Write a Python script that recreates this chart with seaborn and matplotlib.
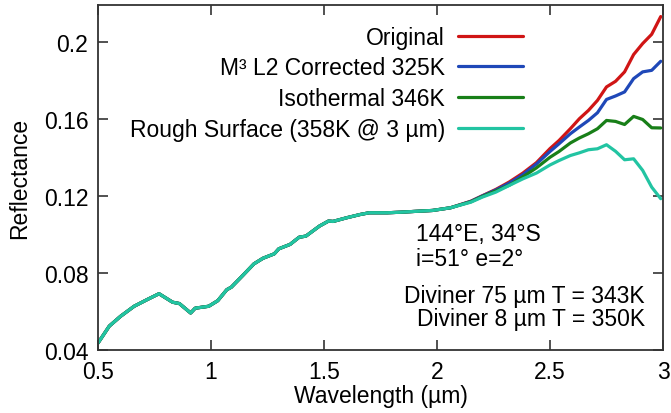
import numpy as np
import pandas as pd
import matplotlib
matplotlib.use("Agg")
import matplotlib.pyplot as plt
import seaborn as sns

# ---------------- data ----------------
wavelength = [0.50, 0.55, 0.60, 0.66, 0.72, 0.77, 0.83, 0.86, 0.91, 0.93,
              0.99, 1.03, 1.07, 1.09, 1.14, 1.19, 1.23, 1.28, 1.30, 1.35,
              1.39, 1.42, 1.48, 1.52, 1.54, 1.60, 1.66, 1.70, 1.78, 1.84,
              1.90, 1.98, 2.06, 2.15, 2.20, 2.26, 2.32, 2.38, 2.44, 2.50,
              2.54, 2.59, 2.63, 2.67, 2.71, 2.75, 2.79, 2.83, 2.87, 2.91,
              2.95, 2.99]

shared_part = [0.0436, 0.0524, 0.0575, 0.0627, 0.0663, 0.0692, 0.0648, 0.0641, 0.0592, 0.0617,
               0.0627, 0.0656, 0.0713, 0.0726, 0.0786, 0.0847, 0.0876, 0.0899, 0.0925, 0.0948,
               0.0985, 0.0991, 0.1043, 0.1069, 0.1067, 0.1086, 0.1103, 0.1112, 0.1112, 0.1115,
               0.1119, 0.1124, 0.1138]

original_tail = [0.1172, 0.1200, 0.1233, 0.1272, 0.1318, 0.1372, 0.1445,
                 0.1487, 0.1548, 0.1600, 0.1643, 0.1695, 0.1765, 0.1794, 0.1843, 0.1933, 0.1990,
                 0.2038, 0.2130]
m3_tail = [0.1171, 0.1199, 0.1230, 0.1266, 0.1310, 0.1365, 0.1430,
           0.1470, 0.1522, 0.1557, 0.1591, 0.1631, 0.1700, 0.1718, 0.1739, 0.1808, 0.1843,
           0.1851, 0.1898]
iso_tail = [0.1169, 0.1196, 0.1225, 0.1255, 0.1298, 0.1345, 0.1400,
            0.1430, 0.1474, 0.1500, 0.1522, 0.1548, 0.1591, 0.1586, 0.1570, 0.1612, 0.1596,
            0.1553, 0.1552]
rough_tail = [0.1167, 0.1193, 0.1219, 0.1254, 0.1288, 0.1318, 0.1360,
              0.1383, 0.1409, 0.1423, 0.1439, 0.1444, 0.1465, 0.1431, 0.1387, 0.1392, 0.1332,
              0.1245, 0.1185]

series_names = ["Original", "M\u00b3 L2 Corrected 325K", "Isothermal 346K",
                "Rough Surface (358K @ 3 \u00b5m)"]
series_values = [shared_part + original_tail, shared_part + m3_tail,
                 shared_part + iso_tail, shared_part + rough_tail]
colors = ["#d01515", "#1f48b8", "#187f18", "#22c4a2"]

x_ticks = [0.5, 1, 1.5, 2, 2.5, 3]
x_tick_labels = ["0.5", "1", "1.5", "2", "2.5", "3"]
y_ticks = [0.04, 0.08, 0.12, 0.16, 0.2]
y_tick_labels = ["0.04", "0.08", "0.12", "0.16", "0.2"]

annotations = [("144\u00b0E, 34\u00b0S", 416, 235, "left"),
               ("i=51\u00b0 e=2\u00b0", 416, 259, "left"),
               ("Diviner 75 \u00b5m T = 343K", 645, 297, "right"),
               ("Diviner 8 \u00b5m T = 350K", 645, 320, "right")]

# ---------------- style ----------------
FS = 16.5
sns.set_theme(style="ticks")
plt.rcParams["font.family"] = ["Liberation Sans", "DejaVu Sans"]
plt.rcParams["axes.edgecolor"] = "#333333"
plt.rcParams["axes.linewidth"] = 1.3
plt.rcParams["text.color"] = "black"
plt.rcParams["axes.labelcolor"] = "black"

frames = []
for name, vals in zip(series_names, series_values):
    frames.append(pd.DataFrame({"wavelength": wavelength, "reflectance": vals, "series": name}))
df = pd.concat(frames, ignore_index=True)

fig = plt.figure(figsize=(6.71, 4.14), dpi=100)
ax = fig.add_axes([98 / 671, 63 / 414, 565 / 671, 345 / 414])

sns.lineplot(data=df, x="wavelength", y="reflectance", hue="series",
             hue_order=series_names, palette=colors, sort=False,
             linewidth=2.3, ax=ax, legend=False)

ax.set_xlim(0.5, 3.0)
ax.set_ylim(0.04, 0.219)
ax.set_xticks(x_ticks)
ax.set_xticklabels(x_tick_labels)
ax.set_yticks(y_ticks)
ax.set_yticklabels(y_tick_labels)
ax.tick_params(direction="in", length=7, width=1.2, color="#333333",
               top=True, right=True, labelsize=FS, labelcolor="black")
ax.tick_params(axis="x", pad=7)
ax.tick_params(axis="y", pad=7)
ax.set_xlabel("Wavelength (\u00b5m)", fontsize=FS, labelpad=1, color="black")
ax.set_ylabel("Reflectance", fontsize=FS, labelpad=9, color="black")

handles = [plt.Line2D([], [], color=c, lw=2.3) for c in colors]
leg = ax.legend(handles, series_names, loc="upper right",
                bbox_to_anchor=(0.752, 0.94), frameon=False, markerfirst=False,
                fontsize=FS, handlelength=2.85, handletextpad=0.55,
                labelspacing=0.34, borderaxespad=0, borderpad=0)
for t in leg.get_texts():
    t.set_color("black")

for s, tx, ty, ha in annotations:
    xa, ya = (tx - 98) / 565, (351 - ty) / 345
    ax.text(xa, ya, s, transform=ax.transAxes, fontsize=FS, ha=ha, va="center",
            color="black")

fig.savefig("out.png", dpi=100)
